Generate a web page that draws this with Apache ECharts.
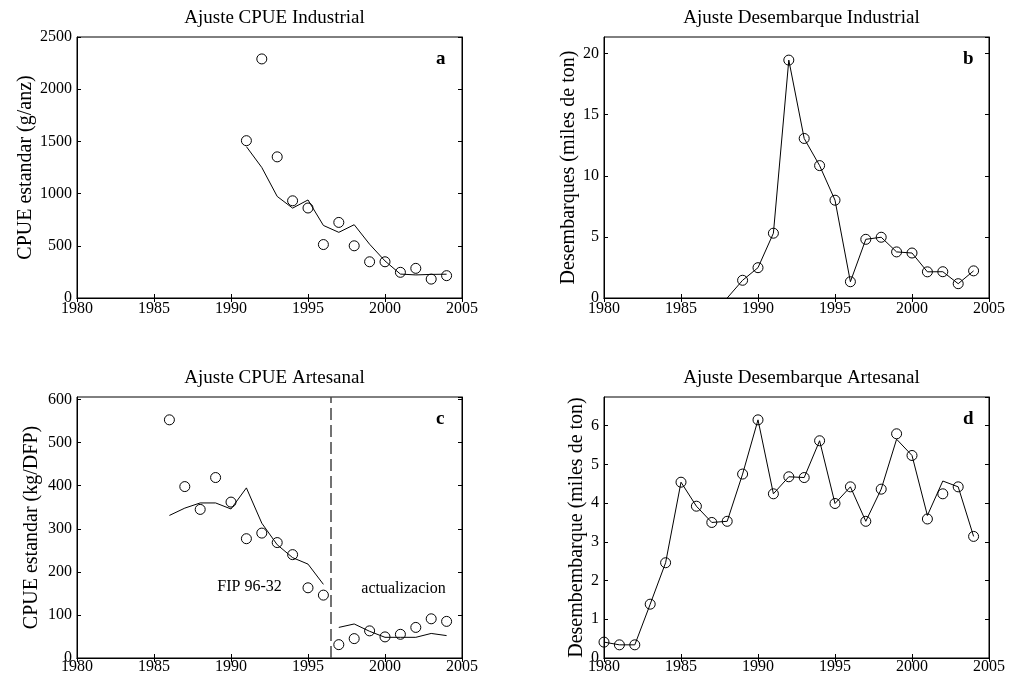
<!DOCTYPE html>
<html>
<head>
<meta charset="utf-8">
<style>
  html, body { margin: 0; padding: 0; background: #fff; }
  #chart { width: 1010px; height: 681px; }
</style>
<script src="https://cdn.jsdelivr.net/npm/echarts@6/dist/echarts.min.js"></script>
</head>
<body>
<div id="chart"></div>
<script>
// ---- Data -----------------------------------------------------------
// (a) CPUE industrial
const yearsIndCpue = [1991, 1992, 1993, 1994, 1995, 1996, 1997, 1998, 1999, 2000, 2001, 2002, 2003, 2004];
const cpueIndObs   = [1507, 2290, 1352, 931, 862, 512, 724, 500, 347, 347, 246, 284, 181, 214];
const cpueIndFit   = [1450, 1250, 973, 861, 939, 695, 629, 702, 515, 355, 229, 221, 226, 228];

// (b) Desembarque industrial
const yearsIndLandObs = [1989, 1990, 1991, 1992, 1993, 1994, 1995, 1996, 1997, 1998, 1999, 2000, 2001, 2002, 2003, 2004];
const landIndObs      = [1.45, 2.48, 5.3, 19.46, 13.05, 10.83, 8.0, 1.33, 4.8, 4.97, 3.77, 3.68, 2.14, 2.15, 1.17, 2.22];
const yearsIndLandFit = [1988, 1989, 1990, 1991, 1992, 1993, 1994, 1995, 1996, 1997, 1998, 1999, 2000, 2001, 2002, 2003, 2004];
const landIndFit      = [0, 1.45, 2.48, 5.3, 19.46, 13.05, 10.83, 8.0, 1.33, 4.8, 4.97, 3.77, 3.68, 2.14, 2.15, 1.17, 2.22];

// (c) CPUE artesanal
const yearsArtCpue   = [1986, 1987, 1988, 1989, 1990, 1991, 1992, 1993, 1994, 1995, 1996, 1997, 1998, 1999, 2000, 2001, 2002, 2003, 2004];
const cpueArtObs     = [553, 398, 345, 419, 362, 277, 290, 268, 240, 163, 146, 31, 45, 63, 49, 55, 71, 91, 85];
const yearsArtFitOld = [1986, 1987, 1988, 1989, 1990, 1991, 1992, 1993, 1994, 1995, 1996];
const cpueArtFitOld  = [331, 348, 360, 360, 346, 395, 313, 263, 233, 218, 171];
const yearsArtFitNew = [1997, 1998, 1999, 2000, 2001, 2002, 2003, 2004];
const cpueArtFitNew  = [71, 79, 62, 48, 48, 48, 57, 52];
const seriesBreakYear = 1996.5;

// (d) Desembarque artesanal
const yearsArtLand = [1980, 1981, 1982, 1983, 1984, 1985, 1986, 1987, 1988, 1989, 1990, 1991, 1992, 1993, 1994, 1995, 1996, 1997, 1998, 1999, 2000, 2001, 2002, 2003, 2004];
const landArtObs   = [0.41, 0.34, 0.34, 1.39, 2.46, 4.54, 3.92, 3.5, 3.53, 4.75, 6.15, 4.24, 4.68, 4.66, 5.61, 3.99, 4.42, 3.53, 4.36, 5.79, 5.23, 3.59, 4.24, 4.42, 3.14];
const landArtFit   = [0.41, 0.34, 0.34, 1.39, 2.46, 4.54, 3.92, 3.5, 3.53, 4.75, 6.15, 4.24, 4.68, 4.66, 5.61, 3.99, 4.42, 3.53, 4.36, 5.65, 5.23, 3.68, 4.57, 4.42, 3.14];

// Axis ranges and ticks
const xRange = [1980, 2005];
const xStep = 5;
const yRanges = [[0, 2500], [0, 21.35], [0, 606], [0, 6.74]];
const ySteps = [500, 5, 100, 1];

const titles = ['Ajuste CPUE Industrial', 'Ajuste Desembarque Industrial', 'Ajuste CPUE Artesanal', 'Ajuste Desembarque Artesanal'];
const yNames = ['CPUE estandar (g/anz)', 'Desembarques (miles de ton)', 'CPUE estandar (kg/DFP)', 'Desembembarque (miles de ton)'];
const panelTags = ['a', 'b', 'c', 'd'];
const notes = ['FIP 96-32', 'actualizacion'];

// ---- Layout ---------------------------------------------------------
const FONT = '"Liberation Serif", "Times New Roman", serif';
const panels = [
  { left: 77,  top: 37,  nameGap: 41, labelMargin: 3 },
  { left: 604, top: 37,  nameGap: 25, labelMargin: 3 },
  { left: 77,  top: 397, nameGap: 35, labelMargin: 1 },
  { left: 604, top: 397, nameGap: 17, labelMargin: 1 }
];
const W = 385, H = 261;

const pair = (xs, ys) => xs.map((x, i) => [x, ys[i]]);
const plain = v => String(+v.toFixed(6));

const grid = [], xAxis = [], yAxis = [], title = [], graphic = [];
panels.forEach((p, i) => {
  grid.push({ left: p.left, top: p.top, width: W, height: H, show: true,
              borderColor: '#000', borderWidth: 1, backgroundColor: '#fff' });
  const tick = { show: true, inside: true, length: 4, lineStyle: { color: '#000', width: 1 } };
  // bottom x axis with labels
  xAxis.push({ type: 'value', gridIndex: i, position: 'bottom', min: xRange[0], max: xRange[1], interval: xStep,
               axisLine: { show: true, lineStyle: { color: '#000' } }, axisTick: tick,
               splitLine: { show: false },
               axisLabel: { color: '#000', fontFamily: FONT, fontSize: 16, margin: p.labelMargin, formatter: plain } });
  // top x axis: ticks only
  xAxis.push({ type: 'value', gridIndex: i, position: 'top', min: xRange[0], max: xRange[1], interval: xStep,
               axisLine: { show: true, lineStyle: { color: '#000' } }, axisTick: tick,
               splitLine: { show: false }, axisLabel: { show: false } });
  // left y axis with labels and name
  yAxis.push({ type: 'value', gridIndex: i, position: 'left', min: yRanges[i][0], max: yRanges[i][1], interval: ySteps[i],
               axisLine: { show: true, lineStyle: { color: '#000' } }, axisTick: tick,
               splitLine: { show: false },
               axisLabel: { color: '#000', fontFamily: FONT, fontSize: 16, margin: 5, showMaxLabel: i === 0, formatter: plain },
               name: yNames[i], nameLocation: 'middle', nameGap: p.nameGap,
               nameTextStyle: { color: '#000', fontFamily: FONT, fontSize: 20 } });
  // right y axis: ticks only
  yAxis.push({ type: 'value', gridIndex: i, position: 'right', min: yRanges[i][0], max: yRanges[i][1], interval: ySteps[i],
               axisLine: { show: true, lineStyle: { color: '#000' } }, axisTick: tick,
               splitLine: { show: false }, axisLabel: { show: false } });
  title.push({ text: titles[i], left: p.left + W / 2, top: p.top - 33, textAlign: 'center',
               textStyle: { color: '#000', fontFamily: FONT, fontSize: 19, fontWeight: 'normal' } });
  graphic.push({ type: 'text', left: p.left + W - 26, top: p.top + 13,
                 style: { text: panelTags[i], fill: '#000', font: 'bold 19px ' + FONT } });
});

const circleStyle = { color: 'rgba(0,0,0,0)', borderColor: '#000', borderWidth: 1, opacity: 1 };
const obs = (idx, data) => ({ type: 'scatter', xAxisIndex: idx * 2, yAxisIndex: idx * 2, data,
                              symbol: 'circle', symbolSize: 10, itemStyle: circleStyle, z: 3, silent: true });
const fit = (idx, data, extra) => Object.assign({ type: 'line', xAxisIndex: idx * 2, yAxisIndex: idx * 2, data,
                              showSymbol: false, symbol: 'none', lineStyle: { color: '#000', width: 1 }, z: 2, silent: true }, extra || {});

const noteLabel = { show: true, position: 'inside', color: '#000', fontFamily: FONT, fontSize: 16, formatter: p => p.name };

const series = [
  obs(0, pair(yearsIndCpue, cpueIndObs)),
  fit(0, pair(yearsIndCpue, cpueIndFit)),
  obs(1, pair(yearsIndLandObs, landIndObs)),
  fit(1, pair(yearsIndLandFit, landIndFit)),
  obs(2, pair(yearsArtCpue, cpueArtObs)),
  fit(2, pair(yearsArtFitOld, cpueArtFitOld), {
    markLine: { silent: true, symbol: 'none', label: { show: false },
                lineStyle: { color: '#444', width: 1.5, type: [12, 5] },
                data: [{ xAxis: seriesBreakYear }] }
  }),
  fit(2, pair(yearsArtFitNew, cpueArtFitNew)),
  { type: 'scatter', xAxisIndex: 4, yAxisIndex: 4, symbolSize: 0, silent: true,
    itemStyle: { opacity: 1 }, label: noteLabel,
    data: [{ name: notes[0], value: [1991.2, 166] }, { name: notes[1], value: [2001.2, 160] }] },
  obs(3, pair(yearsArtLand, landArtObs)),
  fit(3, pair(yearsArtLand, landArtFit))
];

const chart = echarts.init(document.getElementById('chart'), null, { renderer: 'canvas' });
chart.setOption({
  backgroundColor: '#fff',
  animation: false,
  title, grid, xAxis, yAxis, series, graphic
});
</script>
</body>
</html>
